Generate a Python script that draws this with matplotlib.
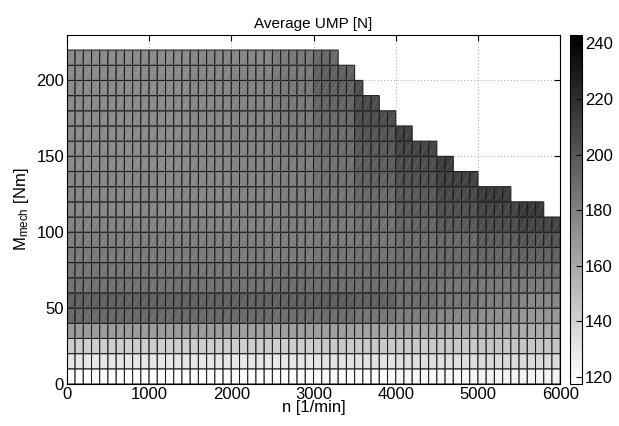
import numpy as np
import matplotlib
matplotlib.use("Agg")
import matplotlib.pyplot as plt
from matplotlib.collections import LineCollection

plt.rcParams['font.family'] = ['Liberation Sans', 'DejaVu Sans']
plt.rcParams['mathtext.fontset'] = 'custom'
plt.rcParams['mathtext.rm'] = 'Liberation Sans'
plt.rcParams['mathtext.it'] = 'Liberation Sans'

# ---- data ----
n_max = 6000          # rpm
n_step = 100          # rpm per cell
M_step = 10           # Nm per row
block_width = 500     # rpm per value block
# max speed reached in each torque row (rows 0-10, 10-20, ..., 210-220 Nm)
row_limits = [6000, 6000, 6000, 6000, 6000, 6000, 6000, 6000, 6000, 6000, 6000,
              5800, 5400, 5000, 4700, 4500, 4200, 4000, 3800, 3600, 3500, 3300]
# average UMP [N] per row, per 500 rpm block (0-500, 500-1000, ...)
ump_blocks = [
    [119, 119, 119, 119, 119, 120, 120, 121, 122, 123, 124, 125],
    [131, 131, 131, 131, 131, 131, 132, 133, 134, 135, 136, 137],
    [142, 142, 142, 142, 142, 142, 143, 143, 144, 144, 145, 145],
    [168, 168, 167, 167, 166, 166, 165, 164, 163, 162, 161, 160],
    [192, 192, 192, 191, 191, 190, 189, 186, 181, 177, 173, 170],
    [194, 194, 194, 194, 194, 195, 196, 194, 189, 185, 181, 178],
    [188, 188, 188, 188, 188, 189, 190, 190, 188, 186, 184, 183],
    [186, 186, 186, 186, 186, 187, 188, 189, 189, 189, 190, 190],
    [183, 183, 183, 183, 183, 184, 185, 187, 189, 191, 193, 195],
    [181, 181, 181, 181, 181, 182, 184, 186, 189, 192, 196, 200],
    [179, 179, 179, 179, 180, 181, 184, 188, 193, 198, 204, 209],
    [178, 178, 178, 178, 179, 181, 185, 190, 196, 202, 208, 214],
    [177, 177, 177, 178, 179, 182, 186, 192, 199, 206, 213],
    [177, 177, 177, 177, 179, 182, 187, 194, 203, 211],
    [176, 176, 176, 177, 179, 182, 188, 196, 205, 212],
    [176, 176, 176, 177, 179, 183, 189, 198, 209],
    [176, 176, 176, 177, 179, 183, 190, 200, 210],
    [176, 176, 176, 177, 179, 183, 191, 204],
    [176, 176, 176, 177, 179, 184, 193, 205],
    [176, 176, 176, 177, 179, 184, 194, 204],
    [176, 176, 176, 177, 179, 184, 195],
    [176, 176, 176, 177, 178, 183, 192],
]
vmin, vmax = 117.5, 243.0

# ---- build grid ----
n_edges = np.arange(0, n_max + n_step, n_step)
M_edges = np.arange(0, (len(row_limits) + 1) * M_step, M_step)
ncols = len(n_edges) - 1
nrows = len(M_edges) - 1
Z = np.full((nrows, ncols), np.nan)
for r in range(nrows):
    for c in range(ncols):
        if n_edges[c] < row_limits[r]:
            Z[r, c] = ump_blocks[r][int(n_edges[c] // block_width)]
Zm = np.ma.masked_invalid(Z)

fig = plt.figure(figsize=(6.19, 4.26), dpi=100)
ax = fig.add_axes([0.108, 0.0986, 0.797, 0.8195])
cax = fig.add_axes([0.921, 0.0986, 0.0194, 0.8195])

cmap = plt.get_cmap('gray_r', 64)
mesh = ax.pcolor(n_edges, M_edges, Zm, cmap=cmap, vmin=vmin, vmax=vmax,
                 edgecolors='#1c1c1c', linewidth=0.75, zorder=2)

# faint cell diagonals (triangulated faces)
segs = []
for r in range(nrows):
    for c in range(ncols):
        if not np.isnan(Z[r, c]) and Z[r, c] > 150:
            segs.append([(n_edges[c], M_edges[r]), (n_edges[c + 1], M_edges[r + 1])])
ax.add_collection(LineCollection(segs, colors=(1, 1, 1, 0.3), linewidths=0.5,
                                 linestyles=(0, (1.5, 1.5)), zorder=3))

ax.set_xlim(0, 6000)
ax.set_ylim(0, 230)
ax.set_xticks(np.arange(0, 6001, 1000))
ax.set_yticks(np.arange(0, 201, 50))
ax.grid(True, linestyle=(0, (1, 2)), color='#b0b0b0', linewidth=0.8, zorder=0)
ax.set_axisbelow(True)
ax.tick_params(direction='in', top=True, right=True, labelsize=12, length=4, pad=2)
for s in ax.spines.values():
    s.set_linewidth(0.8)
    s.set_zorder(5)

ax.set_title('Average UMP [N]', fontsize=11, pad=5)
ax.set_xlabel('n [1/min]', fontsize=12, labelpad=-1)
ax.set_ylabel(r'M$_{\mathrm{mech}}$ [Nm]', fontsize=12, labelpad=4)

cb = fig.colorbar(mesh, cax=cax)
cb.set_ticks(np.arange(120, 241, 20))
cax.tick_params(direction='in', labelsize=12, length=4, pad=2)
cb.outline.set_linewidth(0.8)

fig.savefig('out.png', dpi=100)
